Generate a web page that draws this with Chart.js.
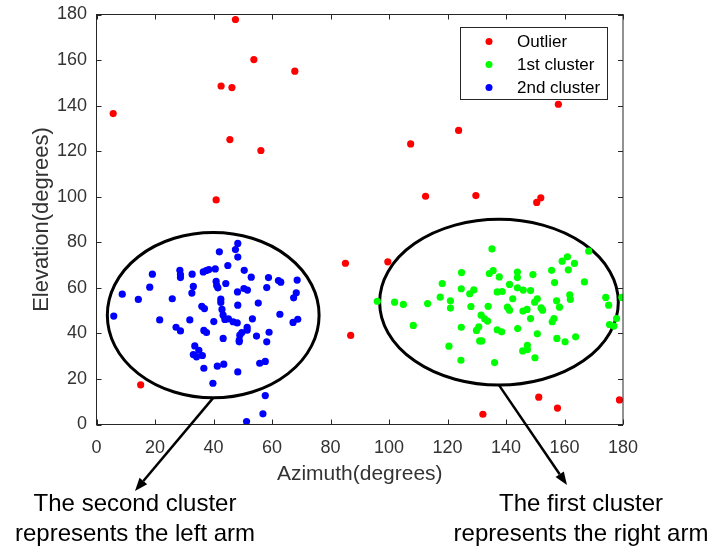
<!DOCTYPE html>
<html>
<head>
<meta charset="utf-8">
<script src="https://cdn.jsdelivr.net/npm/chart.js@4.4.1/dist/chart.umd.min.js"></script>
<style>
  html, body { margin: 0; padding: 0; background: #fff; }
  #wrap { position: relative; width: 712px; height: 548px; }
</style>
</head>
<body>
<div id="wrap"><canvas id="scatter"></canvas></div>
<script>
// values
const outlierX = [47.5, 53.8, 67.8, 42.6, 46.3, 5.7, 45.6, 56.2, 40.9, 157.9, 123.8, 107.4, 112.5, 129.7, 150.5, 151.9, 15.1, 85.1, 86.9, 99.6, 151.2, 132.1, 157.6, 178.8];
const outlierY = [177.8, 160.2, 155.1, 148.6, 147.9, 136.5, 125.1, 120.3, 98.6, 140.6, 129.1, 123.2, 100.2, 100.5, 97.5, 99.5, 17.4, 70.8, 39.1, 71.4, 12.0, 4.5, 7.2, 10.8];

const cluster1X = [96.0, 101.9, 104.9, 108.3, 113.2, 117.5, 118.2, 121.0, 121.0, 120.5, 124.6, 124.7, 124.8, 124.7, 127.6, 129.0, 128.0, 129.9, 130.7, 131.0, 131.7, 131.5, 132.7, 133.7, 133.9, 134.3, 135.6, 135.2, 137.0, 138.7, 137.7, 137.0, 138.5, 136.1, 141.2, 142.3, 140.5, 141.2, 143.9, 143.9, 143.9, 145.9, 148.4, 149.2, 144.0, 145.8, 147.2, 148.4, 149.8, 150.7, 152.0, 152.5, 150.7, 147.3, 145.7, 147.3, 149.9, 155.6, 156.6, 157.3, 158.3, 156.4, 155.8, 157.4, 160.2, 163.8, 159.2, 161.0, 161.3, 163.4, 161.8, 162.0, 166.8, 168.3, 174.1, 175.1, 177.8, 175.4, 176.9, 179.6];
const cluster1Y = [54.1, 53.7, 52.7, 43.5, 53.1, 55.9, 61.9, 54.3, 51.1, 34.4, 28.2, 42.7, 66.7, 59.6, 57.4, 59.1, 51.8, 41.3, 42.9, 36.7, 36.7, 48.0, 46.4, 45.4, 51.9, 66.3, 67.6, 77.1, 58.2, 58.4, 64.8, 41.6, 40.7, 27.2, 61.5, 55.2, 51.5, 50.2, 66.9, 64.5, 60.0, 59.0, 58.8, 65.8, 42.1, 49.8, 50.5, 46.5, 53.7, 55.2, 51.2, 50.2, 39.8, 34.8, 32.3, 32.9, 29.3, 67.7, 62.3, 54.3, 51.5, 46.5, 45.1, 37.8, 36.3, 38.5, 71.7, 73.6, 67.9, 70.7, 56.9, 54.9, 62.6, 76.1, 55.8, 52.4, 46.5, 43.9, 43.2, 55.8];

const cluster2X = [5.9, 8.8, 14.3, 18.2, 19.1, 21.6, 25.9, 27.2, 28.7, 28.5, 28.7, 28.7, 32.7, 33.1, 32.6, 31.9, 36.0, 36.9, 36.5, 37.5, 38.4, 40.6, 40.9, 41.1, 41.5, 42.0, 44.9, 44.2, 42.5, 42.5, 42.9, 43.3, 43.9, 45.1, 40.1, 36.7, 37.6, 43.3, 48.3, 47.5, 48.3, 50.5, 52.9, 48.2, 50.4, 51.6, 48.3, 46.7, 48.1, 53.3, 49.7, 49.0, 51.5, 51.5, 48.8, 48.8, 54.7, 55.3, 58.8, 58.2, 62.2, 63.0, 62.7, 59.0, 58.2, 68.6, 68.3, 67.4, 68.8, 67.2, 33.6, 35.0, 33.1, 34.2, 36.2, 36.7, 41.3, 43.5, 39.8, 48.3, 55.8, 57.7, 57.7, 56.9, 51.3];
const cluster2Y = [47.6, 57.2, 54.9, 60.3, 66.0, 45.9, 55.2, 42.7, 41.1, 67.7, 65.8, 64.5, 66.0, 60.6, 57.7, 45.9, 51.9, 50.9, 67.0, 67.6, 68.0, 68.3, 62.8, 61.0, 60.0, 75.8, 69.8, 61.9, 55.0, 53.6, 50.5, 48.0, 46.1, 46.4, 45.2, 41.3, 40.4, 37.8, 79.5, 76.8, 73.5, 67.7, 64.7, 58.2, 59.7, 59.0, 52.4, 45.1, 44.6, 46.4, 40.4, 39.2, 42.6, 41.4, 37.0, 36.3, 38.8, 53.3, 64.5, 60.1, 63.2, 62.5, 48.4, 40.5, 36.3, 63.4, 57.8, 55.6, 46.2, 44.8, 34.5, 32.6, 30.7, 29.7, 30.3, 24.7, 25.6, 26.5, 18.1, 23.1, 26.9, 27.7, 12.7, 4.7, 1.3];

const seriesNames = ['Outlier', '1st cluster', '2nd cluster'];
const xTicks = [0, 20, 40, 60, 80, 100, 120, 140, 160, 180];
const yTicks = [0, 20, 40, 60, 80, 100, 120, 140, 160, 180];

// circled groups, in data units: centre and radii
const rings = [
  { cx: 39.9, cy: 48.0, rx: 36.2, ry: 36.3, tip: [135, 491], text: ['The second cluster', 'represents the left arm'], tx: 135 },
  { cx: 137.6, cy: 53.7, rx: 40.8, ry: 36.4, tip: [567, 485], text: ['The first cluster', 'represents the right arm'], tx: 581 }
];

const FONT = '"Liberation Sans", Arial, sans-serif';
const AXIS = '#262626';

function pts(xs, ys) {
  return xs.map((v, i) => ({ x: v, y: ys[i] }));
}

const extras = {
  id: 'extras',
  beforeDatasetsDraw(chart) {
    const { ctx, scales: { x, y } } = chart;
    ctx.save();
    ctx.strokeStyle = '#000';
    ctx.lineWidth = 3;
    rings.forEach(r => {
      const cx = x.getPixelForValue(r.cx), cy = y.getPixelForValue(r.cy);
      const rx = x.getPixelForValue(r.cx + r.rx) - cx;
      const ry = cy - y.getPixelForValue(r.cy + r.ry);
      ctx.beginPath();
      ctx.ellipse(cx, cy, rx, ry, 0, 0, Math.PI * 2);
      ctx.stroke();
    });
    ctx.restore();
  },
  afterDraw(chart) {
    const { ctx, chartArea: a, scales: { x, y } } = chart;
    ctx.save();

    // box and inward ticks (matlab style)
    ctx.strokeStyle = AXIS;
    ctx.lineWidth = 1;
    ctx.strokeRect(a.left, a.top, a.right - a.left, a.bottom - a.top);
    ctx.beginPath();
    xTicks.forEach(v => {
      const px = Math.round(x.getPixelForValue(v)) + 0.5;
      ctx.moveTo(px, a.bottom); ctx.lineTo(px, a.bottom - 5);
      ctx.moveTo(px, a.top); ctx.lineTo(px, a.top + 5);
    });
    yTicks.forEach(v => {
      const py = Math.round(y.getPixelForValue(v)) + 0.5;
      ctx.moveTo(a.left, py); ctx.lineTo(a.left + 5, py);
      ctx.moveTo(a.right, py); ctx.lineTo(a.right - 5, py);
    });
    ctx.stroke();

    // arrows from the bottom of each ring + captions
    rings.forEach(r => {
      const sx = x.getPixelForValue(r.cx);
      const sy = y.getPixelForValue(r.cy - r.ry);
      const [ex, ey] = r.tip;
      const ang = Math.atan2(ey - sy, ex - sx);
      const head = 13, half = 5;
      const bx = ex - head * Math.cos(ang), by = ey - head * Math.sin(ang);
      ctx.strokeStyle = '#000';
      ctx.lineWidth = 2.5;
      ctx.beginPath();
      ctx.moveTo(sx, sy);
      ctx.lineTo(bx, by);
      ctx.stroke();
      ctx.fillStyle = '#000';
      ctx.beginPath();
      ctx.moveTo(ex, ey);
      ctx.lineTo(bx + half * Math.sin(ang), by - half * Math.cos(ang));
      ctx.lineTo(bx - half * Math.sin(ang), by + half * Math.cos(ang));
      ctx.closePath();
      ctx.fill();

      ctx.font = '24px ' + FONT;
      ctx.textAlign = 'center';
      ctx.textBaseline = 'middle';
      ctx.fillText(r.text[0], r.tx, 504);
      ctx.fillText(r.text[1], r.tx, 534);
    });

    // legend
    ctx.fillStyle = '#fff';
    ctx.fillRect(460.5, 27.5, 147, 72);
    ctx.strokeStyle = AXIS;
    ctx.lineWidth = 1;
    ctx.strokeRect(460.5, 27.5, 147, 72);
    chart.data.datasets.forEach((ds, i) => {
      const ly = 41.5 + i * 23;
      ctx.fillStyle = ds.backgroundColor;
      ctx.beginPath();
      ctx.arc(489, ly, 3.5, 0, Math.PI * 2);
      ctx.fill();
      ctx.fillStyle = '#000';
      ctx.font = '17px ' + FONT;
      ctx.textAlign = 'left';
      ctx.textBaseline = 'middle';
      ctx.fillText(ds.label, 517, ly + 1);
    });
    ctx.restore();
  }
};

new Chart(document.getElementById('scatter'), {
  type: 'scatter',
  data: {
    datasets: [
      { label: seriesNames[0], data: pts(outlierX, outlierY), backgroundColor: '#ff0000' },
      { label: seriesNames[1], data: pts(cluster1X, cluster1Y), backgroundColor: '#00ff00' },
      { label: seriesNames[2], data: pts(cluster2X, cluster2Y), backgroundColor: '#0000ff' }
    ]
  },
  options: {
    responsive: true,
    maintainAspectRatio: false,
    animation: false,
    events: [],
    elements: { point: { radius: 3.6, borderWidth: 0 } },
    layout: { padding: { top: 14.5, right: 89, left: 0, bottom: 0 } },
    scales: {
      x: {
        type: 'linear',
        min: 0, max: 180,
        afterFit(s) { s.height = 123.5; },
        afterBuildTicks(s) { s.ticks = xTicks.map(v => ({ value: v })); },
        grid: { display: false },
        border: { display: false },
        ticks: { color: '#333', font: { family: FONT, size: 18 }, padding: 5, maxRotation: 0 },
        title: { display: true, text: 'Azimuth(degrees)', color: '#333', font: { family: FONT, size: 21 }, padding: { top: 0, bottom: 61 } }
      },
      y: {
        type: 'linear',
        min: 0, max: 180,
        afterFit(s) { s.width = 96.5; },
        afterBuildTicks(s) { s.ticks = yTicks.map(v => ({ value: v })); },
        grid: { display: false },
        border: { display: false },
        ticks: { color: '#333', font: { family: FONT, size: 18 }, padding: 1.5 },
        title: { display: true, text: 'Elevation(degrees)', color: '#333', font: { family: FONT, size: 22 }, padding: { top: 29, bottom: 0 } }
      }
    },
    plugins: {
      legend: { display: false },
      tooltip: { enabled: false }
    }
  },
  plugins: [extras]
});
</script>
</body>
</html>
